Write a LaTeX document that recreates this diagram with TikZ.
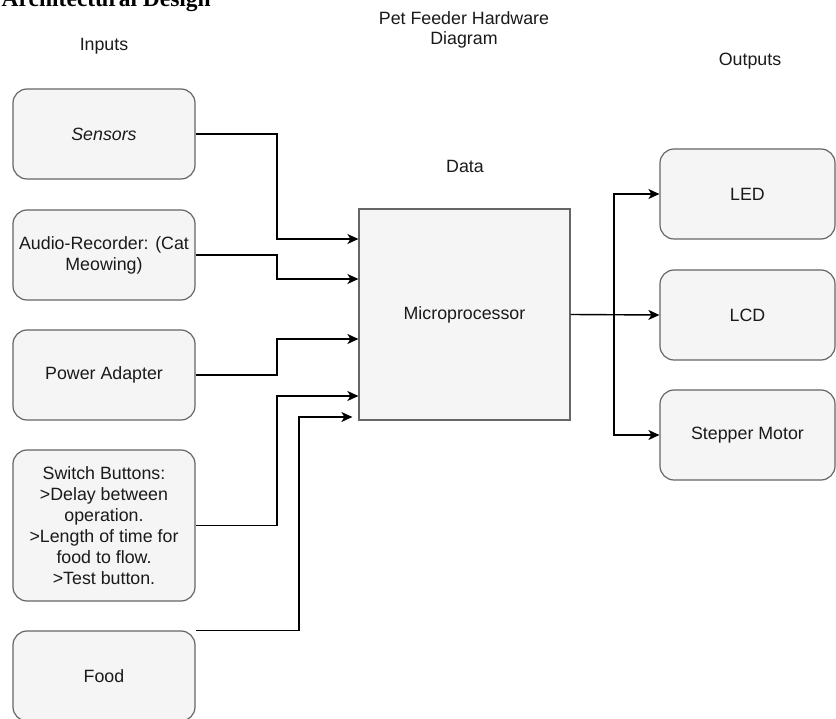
\documentclass[tikz,border=0pt]{standalone}
\usepackage{fontspec}
\setmainfont{Liberation Sans}
\newfontfamily\titlefont{Liberation Serif}
\usetikzlibrary{arrows.meta}
\definecolor{boxfill}{HTML}{F5F5F5}
\definecolor{boxline}{HTML}{666666}
\definecolor{txt}{HTML}{1A1A1A}

\begin{document}
\begin{tikzpicture}[x=1pt,y=-1pt,
  base/.style={draw=boxline, fill=boxfill, line width=1.2pt, inner sep=0pt,
    align=center, text=txt, font=\fontsize{17.8}{21}\selectfont},
  rbox/.style={base, rounded corners=14pt},
  lbl/.style={text=txt, align=center, inner sep=0pt, font=\fontsize{17.8}{20}\selectfont},
  wire/.style={line width=1.4pt, -{Stealth[length=11pt,width=10pt,inset=3pt]}}]

\useasboundingbox (0,0) rectangle (836,719);
\clip (0,0) rectangle (836,719);

% page heading, partly cut off
\node[anchor=base east, inner sep=0pt, font=\titlefont\bfseries\fontsize{23.5}{28}\selectfont] (title) at (211,6.5) {Architectural Design};

% column headings
\node[lbl] (hin)   at (104,46)  {Inputs};
\node[lbl] (hdiag) at (464,30)  {Pet Feeder Hardware\\Diagram};
\node[lbl] (hdata) at (465,166) {Data};
\node[lbl] (hout)  at (750,61)  {Outputs};

% input devices
\node[rbox, minimum width=182pt, minimum height=90pt]  (sens) at (104,134)   {\itshape Sensors};
\node[rbox, minimum width=182pt, minimum height=90pt]  (aud)  at (104,255)   {Audio-Recorder: (Cat\\Meowing)};
\node[rbox, minimum width=182pt, minimum height=90pt]  (pow)  at (104,375)   {Power Adapter};
\node[rbox, minimum width=182pt, minimum height=151pt] (sw)   at (104,525.5) {Switch Buttons:\\>Delay between\\operation.\\>Length of time for\\food to flow.\\>Test button.};
\node[rbox, minimum width=182pt, minimum height=90pt]  (food) at (104,676)   {Food};

% controller
\node[base, minimum width=211pt, minimum height=211pt] (micro) at (464.5,314.5) {Microprocessor};

% output devices
\node[rbox, minimum width=175pt, minimum height=90pt] (led)  at (747.5,194) {LED};
\node[rbox, minimum width=175pt, minimum height=90pt] (lcd)  at (747.5,315) {LCD};
\node[rbox, minimum width=175pt, minimum height=90pt] (step) at (747.5,435) {Stepper Motor};

% bend points of the input wires
\coordinate (j1) at (277,239);
\coordinate (j2) at (277,279);
\coordinate (j3) at (277,339);
\coordinate (j4) at (277,396);
\coordinate (j5) at (299,417);

\draw[wire] (sens.east) -| (j1) -- (j1 -| micro.west);
\draw[wire] (aud.east)  -| (j2) -- (j2 -| micro.west);
\draw[wire] (pow.east)  -| (j3) -- (j3 -| micro.west);
\draw[wire] (sw.east)   -| (j4) -- (j4 -| micro.west);
\draw[wire, shorten >=6pt] (food.north east) -| (j5) -- (j5 -| micro.west);

% output wires
\coordinate (split) at (614,314.5);
\draw[wire] (micro.east) -- (lcd.west);
\draw[wire] (split) |- (led.west);
\draw[wire] (split) |- (step.west);
\end{tikzpicture}
\end{document}
